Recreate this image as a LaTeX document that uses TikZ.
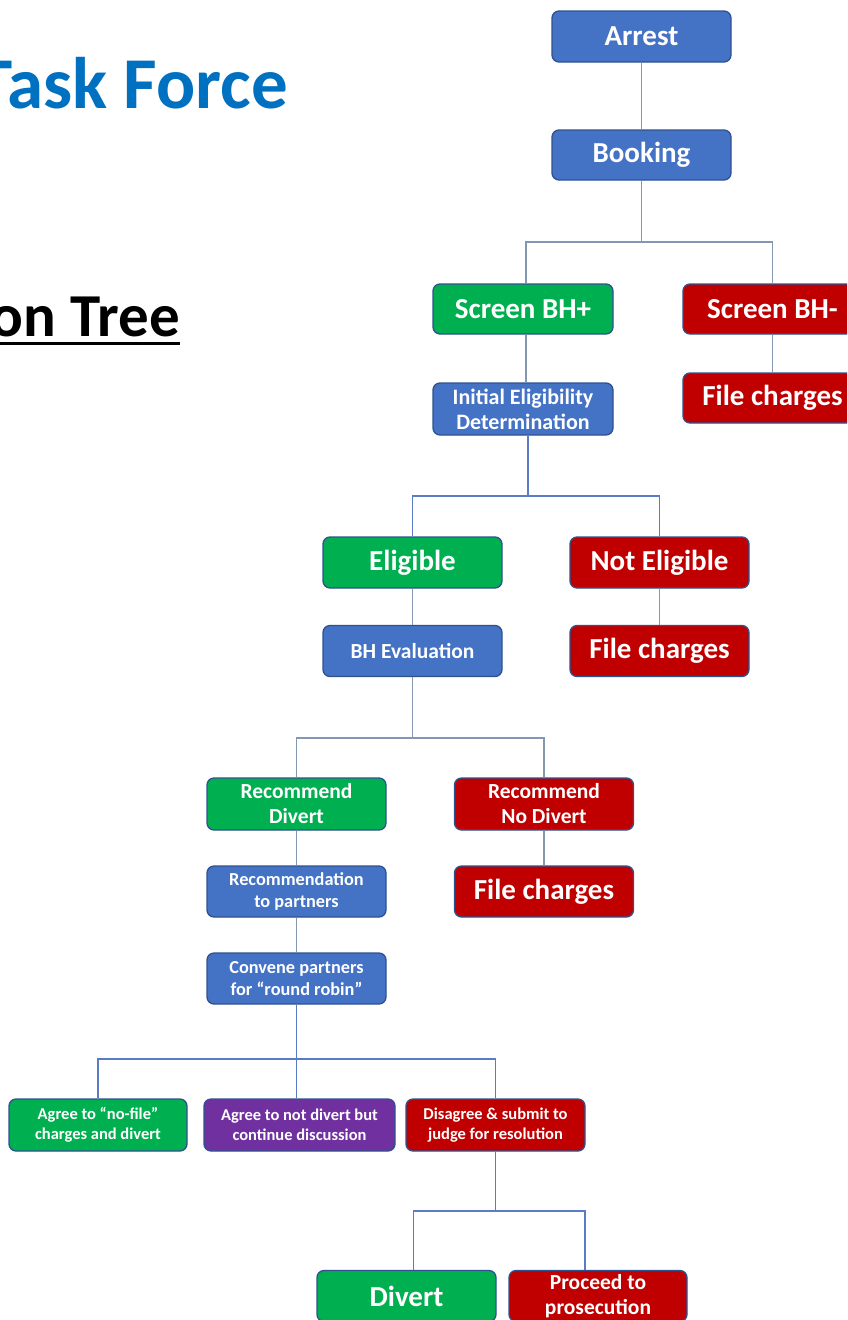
\documentclass[tikz,border=0pt]{standalone}
\usepackage{fontspec}
\setmainfont{Carlito}
\definecolor{bblue}{HTML}{4472C4}
\definecolor{bgreen}{HTML}{00B050}
\definecolor{bred}{HTML}{C00000}
\definecolor{bpurple}{HTML}{7030A0}
\definecolor{bborder}{HTML}{2F528F}
\definecolor{titleblue}{HTML}{0070C0}
\definecolor{conngray}{HTML}{8497B0}
\definecolor{connblue}{HTML}{5B7BC4}
\tikzset{
  box/.style={rounded corners=7pt, draw=bborder, line width=1.3pt, text=white,
    font=\bfseries, align=center, minimum width=179pt, minimum height=51pt,
    inner sep=0pt},
  bluebox/.style={box, fill=bblue},
  greenbox/.style={box, fill=bgreen},
  redbox/.style={box, fill=bred},
  purplebox/.style={box, fill=bpurple},
  bigtxt/.style={font=\fontsize{29}{31}\selectfont\bfseries},
  iedtxt/.style={font=\fontsize{22}{25}\selectfont\bfseries},
  midtxt/.style={font=\fontsize{21.5}{25}\selectfont\bfseries},
  smalltxt/.style={font=\fontsize{18.3}{22}\selectfont\bfseries},
  tinytxt/.style={font=\fontsize{16.5}{20.5}\selectfont\bfseries},
  conn/.style={draw=conngray, line width=1.2pt},
  connb/.style={draw=connblue, line width=1.2pt}
}
\begin{document}
\begin{tikzpicture}[x=1pt,y=-1pt]
\useasboundingbox (0,0) rectangle (847,1320);
\clip (0,0) rectangle (847,1320);
\fill[white] (0,0) rectangle (847,1320);

% titles
\node[anchor=base east, inner sep=0pt, text=titleblue,
  font=\fontsize{73}{80}\selectfont\bfseries] (title) at (288,108) {Task Force};
\node[anchor=base east, inner sep=0pt, text=black,
  font=\fontsize{61}{70}\selectfont\bfseries] (tree) at (180,336) {on Tree};
\draw[line width=3pt] ([yshift=-7pt]tree.base west) -- ([yshift=-7pt]tree.base east);

% boxes
\node[bluebox, bigtxt] (arrest) at (641.5,36.5) {Arrest};
\node[bluebox, bigtxt, minimum height=50pt] (booking) at (641.5,155) {Booking};
\node[greenbox, bigtxt, minimum width=180pt, minimum height=50pt] (bhplus) at (523,309) {Screen BH+};
\node[redbox, bigtxt, minimum height=50pt] (bhminus) at (772.5,309) {Screen BH-};
\node[redbox, bigtxt, minimum height=50pt] (fc1) at (772.5,398) {File charges};
\node[bluebox, iedtxt, minimum width=180pt, minimum height=52pt] (ied) at (523,409) {Initial Eligibility\\Determination};
\node[greenbox, bigtxt] (elig) at (412.5,562.5) {Eligible};
\node[redbox, bigtxt] (notelig) at (659.5,562.5) {Not Eligible};
\node[bluebox, midtxt] (bheval) at (412.5,651) {BH Evaluation};
\node[redbox, bigtxt] (fc2) at (659.5,651) {File charges};
\node[greenbox, midtxt, minimum height=52pt] (recdiv) at (296.5,804) {Recommend\\Divert};
\node[redbox, midtxt, minimum height=52pt] (recnodiv) at (544,804) {Recommend\\No Divert};
\node[bluebox, smalltxt] (recpart) at (296.5,891.5) {Recommendation\\to partners};
\node[redbox, bigtxt] (fc3) at (544,891.5) {File charges};
\node[bluebox, smalltxt] (convene) at (296.5,978.5) {Convene partners\\for “round robin”};
\node[greenbox, tinytxt, minimum width=178pt, minimum height=52pt] (agree1) at (98,1125) {Agree to “no-file”\\charges and divert};
\node[purplebox, tinytxt, minimum width=191pt, minimum height=52pt] (agree2) at (299.5,1125) {Agree to not divert but\\continue discussion};
\node[redbox, tinytxt, minimum height=52pt] (disagree) at (495.5,1125) {Disagree \& submit to\\judge for resolution};
\node[greenbox, bigtxt] (divert) at (406.5,1296) {Divert};
\node[redbox, midtxt, minimum width=178pt] (proceed) at (598,1296) {Proceed to\\prosecution};

% connectors
\draw[conn] (arrest.south) -- (booking.north);
\draw[conn] (booking.south) -- (booking.south |- 0,242) -| ([xshift=3pt]bhplus.north);
\draw[conn] (booking.south |- 0,242) -| (bhminus.north);
\draw[conn] ([xshift=3pt]bhplus.south) -- ([xshift=3pt]ied.north);
\draw[conn] (bhminus.south) -- (fc1.north);
\draw[connb] ([xshift=5pt]ied.south) -- ([xshift=5pt]ied.south |- 0,496) -| (elig.north);
\draw[connb] ([xshift=5pt]ied.south |- 0,496) -| (notelig.north);
\draw[conn] (elig.south) -- (bheval.north);
\draw[conn] (notelig.south) -- (fc2.north);
\draw[conn] (bheval.south) -- (bheval.south |- 0,738) -| (recdiv.north);
\draw[conn] (bheval.south |- 0,738) -| (recnodiv.north);
\draw[conn] (recdiv.south) -- (recpart.north);
\draw[conn] (recpart.south) -- (convene.north);
\draw[conn] (recnodiv.south) -- (fc3.north);
\draw[connb] (convene.south) -- (convene.south |- 0,1059) -| (agree1.north);
\draw[connb] (convene.south |- 0,1059) -| (disagree.north);
\draw[connb] (convene.south |- 0,1059) -- (agree2.north -| convene.south);
\draw[connb] (disagree.south) -- (disagree.south |- 0,1211) -| ([xshift=7pt]divert.north);
\draw[connb] (disagree.south |- 0,1211) -| ([xshift=-13pt]proceed.north);
\end{tikzpicture}
\end{document}
